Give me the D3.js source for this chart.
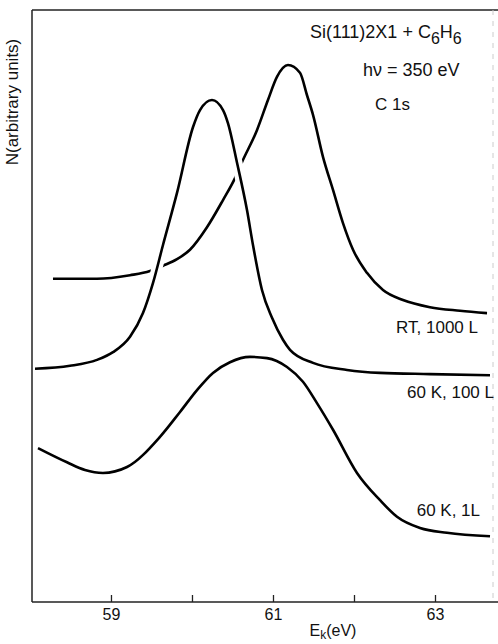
<!DOCTYPE html>
<html>
<head>
<meta charset="utf-8">
<script src="https://cdn.jsdelivr.net/npm/d3@7"></script>
<style>
  body { margin: 0; background: #fff; }
  text { font-family: "Liberation Sans", "DejaVu Sans", sans-serif; fill: #111; }
</style>
</head>
<body>
<svg id="chart" width="498" height="644"></svg>
<script>
// kinetic energy (eV) and intensity (arbitrary units, 0-100)
var rt1000_E = [58.284, 58.827, 59.235, 59.481, 59.642, 59.815, 59.975, 60.185, 60.383, 60.531, 60.617, 60.802, 60.938, 61.049, 61.185, 61.333, 61.420, 61.494, 61.617, 61.741, 61.864, 61.988, 62.160, 62.358, 62.605, 62.938, 63.309, 63.642];
var rt1000_N = [54.6, 54.6, 55.2, 55.9, 56.8, 57.9, 59.5, 63.3, 67.9, 71.6, 74.3, 79.7, 84.8, 88.7, 90.7, 89.4, 85.6, 82.3, 75.2, 69.6, 64.0, 59.5, 55.6, 52.7, 51.0, 49.8, 49.2, 48.8];

var k60_100_E = [58.062, 58.494, 58.827, 59.025, 59.235, 59.395, 59.519, 59.642, 59.815, 60.012, 60.099, 60.247, 60.383, 60.444, 60.556, 60.679, 60.753, 60.864, 60.988, 61.123, 61.210, 61.494, 61.914, 62.321, 62.938, 63.679];
var k60_100_N = [39.4, 39.9, 40.9, 42.2, 44.8, 48.8, 53.9, 60.3, 69.1, 80.2, 83.1, 84.8, 83.1, 80.9, 74.2, 66.2, 60.3, 52.7, 48.0, 44.3, 42.6, 40.4, 39.2, 38.7, 38.5, 38.3];

var k60_1_E = [58.099, 58.457, 58.679, 58.901, 59.198, 59.605, 59.852, 60.062, 60.259, 60.469, 60.716, 60.926, 61.173, 61.370, 61.543, 61.741, 62.037, 62.321, 62.531, 62.815, 63.148, 63.679];
var k60_1_N = [26.0, 23.6, 22.3, 21.8, 22.8, 27.9, 32.1, 35.8, 38.7, 40.5, 41.4, 41.2, 39.7, 37.2, 33.6, 29.1, 21.8, 17.2, 14.4, 12.5, 11.7, 11.1];

var xTicks = [59, 60, 61, 62, 63];
var xTickLabels = {59: "59", 61: "61", 63: "63"};

var svg = d3.select("#chart");

var x = d3.scaleLinear().domain([58.025, 63.716]).range([32, 493]);
var y = d3.scaleLinear().domain([0, 100]).range([602, 10]);

function pts(E, N) {
    return E.map(function(e, i) { return [e, N[i]]; });
}

var line = d3.line()
    .x(function(d) { return x(d[0]); })
    .y(function(d) { return y(d[1]); })
    .curve(d3.curveMonotoneX);

// RT curve first, the 60K 100L curve cuts through it with a white halo
svg.append("path")
    .attr("d", line(pts(rt1000_E, rt1000_N)))
    .attr("fill", "none")
    .attr("stroke", "#000")
    .attr("stroke-width", 2.6);

svg.append("path")
    .attr("d", line(pts(k60_100_E, k60_100_N)))
    .attr("fill", "none")
    .attr("stroke", "#fff")
    .attr("stroke-width", 11);

svg.append("path")
    .attr("d", line(pts(k60_100_E, k60_100_N)))
    .attr("fill", "none")
    .attr("stroke", "#000")
    .attr("stroke-width", 2.6);

svg.append("path")
    .attr("d", line(pts(k60_1_E, k60_1_N)))
    .attr("fill", "none")
    .attr("stroke", "#000")
    .attr("stroke-width", 2.6);

// frame
svg.append("line")
    .attr("x1", 32).attr("x2", 498).attr("y1", 10).attr("y2", 10)
    .attr("stroke", "#222").attr("stroke-width", 1.5);
svg.append("line")
    .attr("x1", 32).attr("x2", 32).attr("y1", 10).attr("y2", 602)
    .attr("stroke", "#222").attr("stroke-width", 1.5);
svg.append("line")
    .attr("x1", 493).attr("x2", 493).attr("y1", 10).attr("y2", 602)
    .attr("stroke", "#ccc").attr("stroke-width", 1)
    .attr("stroke-dasharray", "5,6");
svg.append("line")
    .attr("x1", 32).attr("x2", 498).attr("y1", 602).attr("y2", 602)
    .attr("stroke", "#222").attr("stroke-width", 1.5);

var xAxis = d3.axisBottom(x)
    .tickValues(xTicks)
    .tickSize(-7)
    .tickSizeOuter(0)
    .tickPadding(7)
    .tickFormat(function(d) { return xTickLabels[d] || ""; });

var gx = svg.append("g")
    .attr("transform", "translate(0,602)")
    .call(xAxis);
gx.select(".domain").remove();
gx.selectAll(".tick line").attr("stroke", "#222").attr("stroke-width", 1.3);
gx.selectAll(".tick text")
    .style("font-family", "Liberation Sans, sans-serif")
    .style("font-size", "16px")
    .attr("fill", "#111");

// axis titles
var xt = svg.append("text")
    .attr("x", 333).attr("y", 636)
    .attr("text-anchor", "middle")
    .style("font-size", "16px");
xt.append("tspan").text("E");
xt.append("tspan").attr("dy", 3).style("font-size", "12px").text("k");
xt.append("tspan").attr("dy", -3).text("(eV)");

svg.append("text")
    .attr("transform", "translate(18,102) rotate(-90)")
    .attr("text-anchor", "middle")
    .style("font-size", "17px")
    .text("N(arbitrary units)");

// annotations
var t1 = svg.append("text")
    .attr("x", 310).attr("y", 38)
    .style("font-size", "18px");
t1.append("tspan").text("Si(111)2X1 + C");
t1.append("tspan").attr("dy", 6).style("font-size", "16px").text("6");
t1.append("tspan").attr("dy", -6).text("H");
t1.append("tspan").attr("dy", 6).style("font-size", "16px").text("6");

svg.append("text")
    .attr("x", 363).attr("y", 76)
    .style("font-size", "18px")
    .text("h\u03BD = 350 eV");

svg.append("text")
    .attr("x", 375).attr("y", 110)
    .style("font-size", "17px")
    .text("C 1s");

svg.append("text")
    .attr("x", 478).attr("y", 333)
    .attr("text-anchor", "end")
    .style("font-size", "17px")
    .text("RT, 1000 L");

svg.append("text")
    .attr("x", 494).attr("y", 398)
    .attr("text-anchor", "end")
    .style("font-size", "17px")
    .text("60 K, 100 L");

svg.append("text")
    .attr("x", 480).attr("y", 516)
    .attr("text-anchor", "end")
    .style("font-size", "17px")
    .text("60 K, 1L");
</script>
</body>
</html>
